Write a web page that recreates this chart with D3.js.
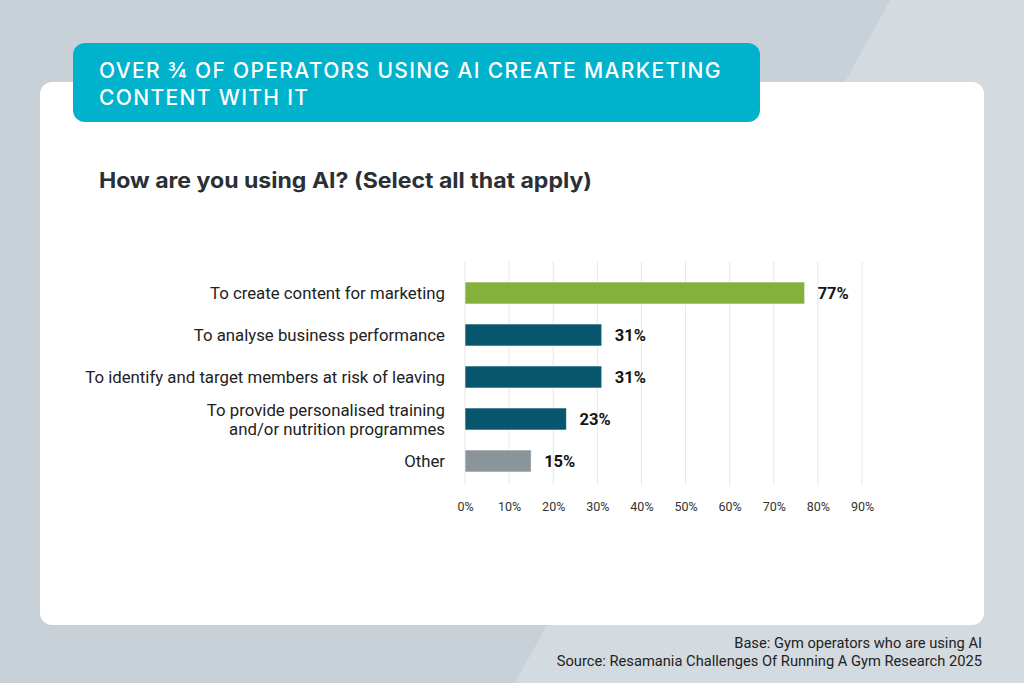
<!DOCTYPE html>
<html>
<head>
<meta charset="utf-8">
<script src="https://cdn.jsdelivr.net/npm/d3@7"></script>
<style>
  html, body { margin: 0; padding: 0; background: #c9d1d8; }
  svg { display: block; }
</style>
</head>
<body>
<div id="chart"></div>
<script>
// data
const categories = [
  "To create content for marketing",
  "To analyse business performance",
  "To identify and target members at risk of leaving",
  "To provide personalised training|and/or nutrition programmes",
  "Other"
];
const values = [77, 31, 31, 23, 15];
const barColors = ["#84b13c", "#08566e", "#08566e", "#08566e", "#8a949b"];
const tickValues = [0, 10, 20, 30, 40, 50, 60, 70, 80, 90];
const titleLines = ["OVER ¾ OF OPERATORS USING AI CREATE MARKETING", "CONTENT WITH IT"];
const question = "How are you using AI? (Select all that apply)";
const footnotes = ["Base: Gym operators who are using AI", "Source: Resamania Challenges Of Running A Gym Research 2025"];

const W = 1024, H = 683;
const svg = d3.select("#chart").append("svg").attr("width", W).attr("height", H);

// background with the lighter diagonal band
svg.append("rect").attr("width", W).attr("height", H).attr("fill", "#c9d1d8");
svg.append("path")
  .attr("d", `M890,0 L${W},0 L${W},${H} L515,${H} Z`)
  .attr("fill", "#d3dae0");

// white card
svg.append("rect")
  .attr("x", 40).attr("y", 82).attr("width", 944).attr("height", 543)
  .attr("rx", 12).attr("fill", "#ffffff");

// title banner
svg.append("rect")
  .attr("x", 73).attr("y", 43).attr("width", 687).attr("height", 79)
  .attr("rx", 12).attr("fill", "#00b2cb");

svg.selectAll("text.title").data(titleLines).join("text")
  .attr("class", "title")
  .attr("x", 99).attr("y", (d, i) => 78 + i * 27)
  .attr("fill", "#ffffff")
  .attr("font-family", "Inter, 'Noto Sans', sans-serif")
  .attr("font-size", 21).attr("font-weight", 500)
  .attr("letter-spacing", 1.35)
  .text(d => d);

svg.append("text")
  .attr("x", 99).attr("y", 188)
  .attr("fill", "#2b2f36")
  .attr("font-family", "Inter, 'Noto Sans', sans-serif")
  .attr("font-size", 21).attr("font-weight", 700)
  .attr("textLength", 493).attr("lengthAdjust", "spacingAndGlyphs")
  .text(question);

// chart
const x = d3.scaleLinear().domain([0, 90]).range([465, 862]);
const y = d3.scaleBand().domain(categories).range([272, 482])
  .paddingInner(0.476).paddingOuter(0.238);

const g = svg.append("g");

g.selectAll("line.grid").data(tickValues).join("line")
  .attr("class", "grid")
  .attr("x1", d => x(d)).attr("x2", d => x(d))
  .attr("y1", 262).attr("y2", 485)
  .attr("stroke", "#e6e6e6").attr("stroke-width", 1);

const xAxis = d3.axisBottom(x).tickValues(tickValues).tickFormat(d => d + "%").tickSize(0).tickPadding(0);
const ax = g.append("g").attr("transform", "translate(0,502)").call(xAxis);
ax.select(".domain").remove();
ax.selectAll("text")
  .attr("font-family", "Roboto, sans-serif").attr("font-size", 12.5).attr("fill", "#333");

g.selectAll("rect.bar").data(values).join("rect")
  .attr("class", "bar")
  .attr("x", x(0))
  .attr("y", (d, i) => y(categories[i]))
  .attr("width", d => x(d) - x(0))
  .attr("height", y.bandwidth())
  .attr("fill", (d, i) => barColors[i])
  .attr("stroke", "rgba(255,255,255,0.6)").attr("stroke-width", 1);

g.selectAll("text.val").data(values).join("text")
  .attr("class", "val")
  .attr("x", d => x(d) + 13)
  .attr("y", (d, i) => y(categories[i]) + y.bandwidth() / 2)
  .attr("dy", "0.36em")
  .attr("font-family", "Roboto, sans-serif").attr("font-size", 16.5).attr("font-weight", 700)
  .attr("fill", "#151515")
  .text(d => d + "%");

const labels = g.selectAll("text.cat").data(categories).join("text")
  .attr("class", "cat")
  .attr("text-anchor", "end")
  .attr("font-family", "Roboto, sans-serif").attr("font-size", 16.8)
  .attr("fill", "#222");
labels.each(function (d) {
  const lines = d.split("|");
  const cy = y(d) + y.bandwidth() / 2;
  const lh = 19;
  d3.select(this).selectAll("tspan").data(lines).join("tspan")
    .attr("x", 445)
    .attr("y", (l, i) => cy + (i - (lines.length - 1) / 2) * lh)
    .attr("dy", "0.36em")
    .text(l => l);
});

// footnotes
svg.selectAll("text.foot").data(footnotes).join("text")
  .attr("class", "foot")
  .attr("x", 982).attr("y", (d, i) => 648 + i * 18)
  .attr("text-anchor", "end")
  .attr("font-family", "Roboto, sans-serif").attr("font-size", 14.7)
  .attr("fill", "#222")
  .text(d => d);
</script>
</body>
</html>
